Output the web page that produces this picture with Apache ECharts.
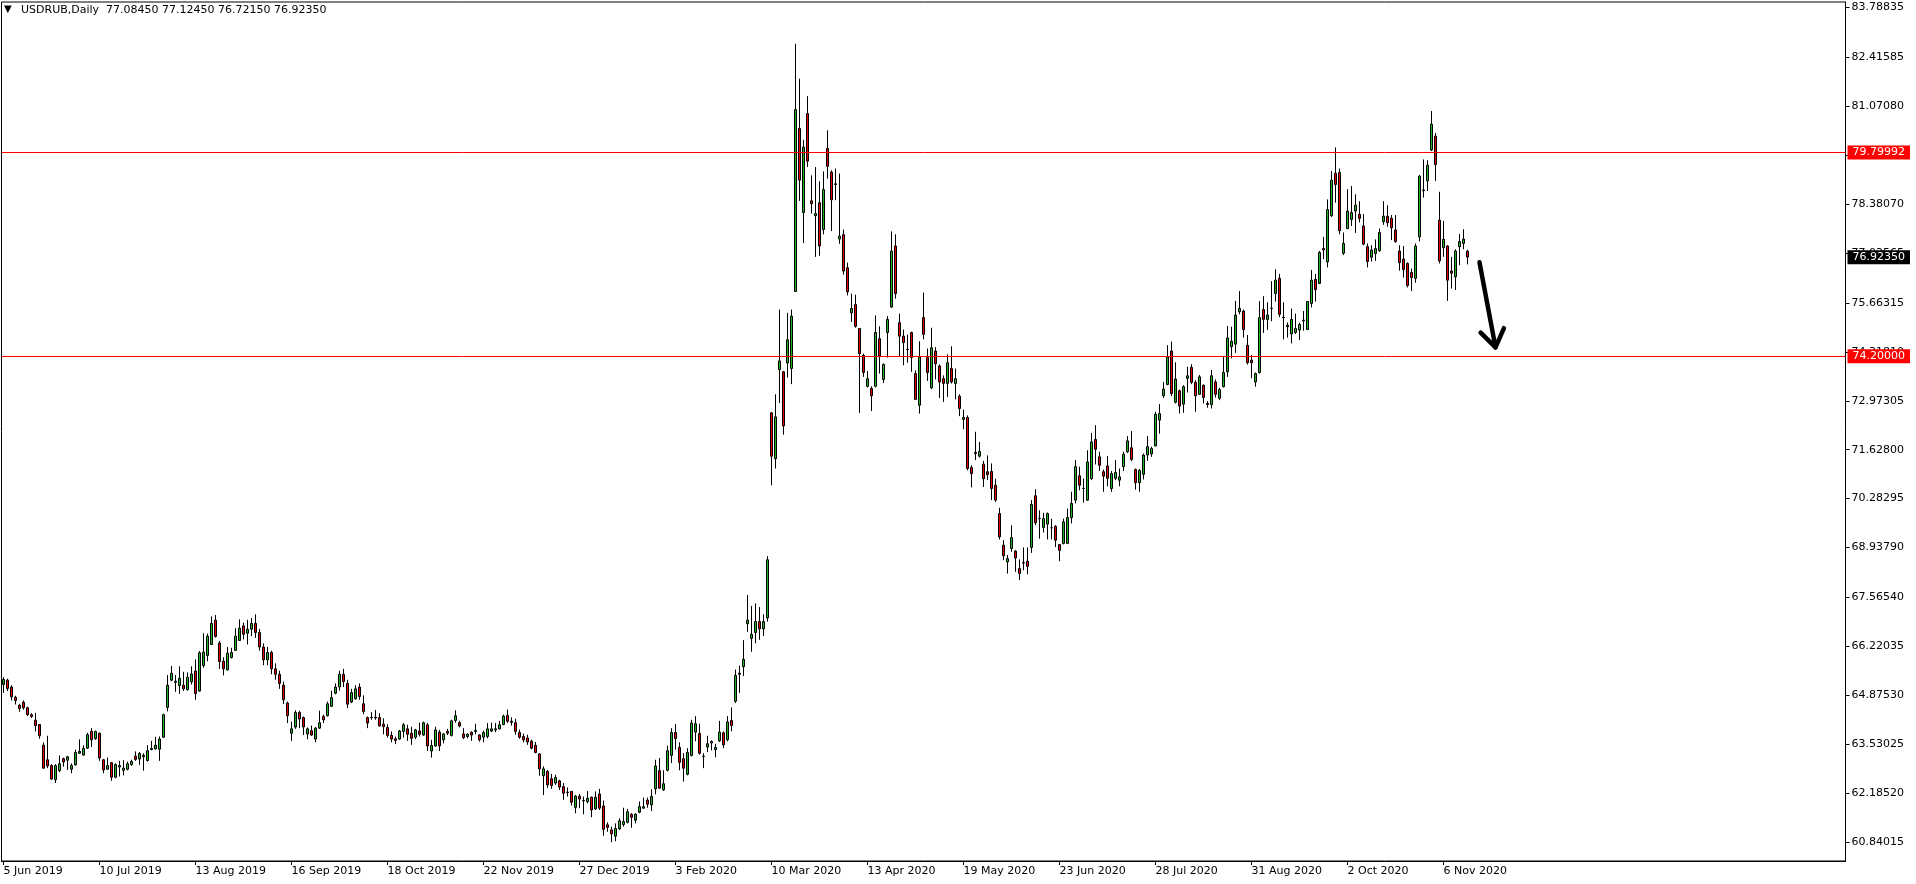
<!DOCTYPE html>
<html>
<head>
<meta charset="utf-8">
<script src="https://cdn.jsdelivr.net/npm/echarts@6/dist/echarts.min.js"></script>
<style>
html,body{margin:0;padding:0;background:#fff;}
#chart{width:1916px;height:884px;}
</style>
</head>
<body>
<div id="chart"></div>
<script>
// ---------- DATA ----------
const symbolName = 'USDRUB,Daily';
// last bar quote: open, high, low, close
const lastQuote = [77.08450, 77.12450, 76.72150, 76.92350];

// daily candles, one row per bar: [open, close, low, high]
const ohlc = [
[65.17,65.31,64.94,65.37],[65.29,65.06,64.99,65.33],[65.10,64.83,64.73,65.15],[64.82,64.73,64.62,64.86],
[64.60,64.51,64.42,64.64],[64.68,64.53,64.48,64.73],[64.53,64.34,64.30,64.56],[64.34,64.29,64.25,64.38],
[64.19,64.04,63.88,64.39],[64.07,63.76,63.68,64.08],[63.50,62.87,62.85,63.58],[63.10,62.93,62.87,63.76],
[62.94,62.57,62.55,62.98],[62.55,62.94,62.46,62.98],[62.80,62.99,62.76,63.22],[63.13,63.04,62.91,63.16],
[63.09,63.18,62.82,63.21],[62.84,62.94,62.73,63.00],[62.96,63.30,62.94,63.38],[63.28,63.33,63.26,63.66],
[63.23,63.41,63.21,63.50],[63.42,63.79,63.40,63.84],[63.88,63.65,63.45,63.97],[63.68,63.88,63.65,63.90],
[63.83,63.15,63.07,63.85],[63.10,62.82,62.73,63.12],[62.84,62.94,62.82,63.16],[63.02,62.62,62.52,63.04],
[62.62,62.97,62.59,63.00],[62.90,62.94,62.64,63.07],[62.81,62.87,62.67,63.09],[62.84,62.99,62.81,63.05],
[62.97,63.05,62.93,63.10],[63.20,63.11,63.07,63.33],[63.12,63.27,62.96,63.31],[63.18,63.22,62.80,63.28],
[63.08,63.35,63.05,63.50],[63.38,63.41,63.36,63.62],[63.40,63.50,63.38,63.73],[63.39,63.67,63.07,63.74],
[63.72,64.34,63.70,64.37],[64.54,65.15,64.43,65.43],[65.29,65.48,65.26,65.68],[65.23,65.26,64.97,65.43],
[65.14,65.34,64.91,65.67],[65.15,65.05,64.99,65.52],[65.03,65.37,65.00,65.50],[65.24,65.46,65.17,65.67],
[65.54,64.92,64.75,65.86],[64.99,66.04,64.97,66.09],[65.69,66.06,65.63,66.58],[65.97,66.50,65.81,66.57],
[66.27,66.85,66.26,67.04],[66.94,66.49,66.46,67.08],[66.31,65.80,65.60,66.37],[65.81,65.60,65.42,65.92],
[65.57,66.03,65.56,66.20],[65.91,66.05,65.89,66.18],[66.11,66.50,66.09,66.72],[66.38,66.72,66.37,66.96],
[66.78,66.55,66.41,66.87],[66.58,66.69,66.27,66.95],[66.69,66.85,66.50,67.00],[66.85,66.60,66.45,67.10],
[66.60,66.20,66.10,66.70],[66.20,65.85,65.70,66.30],[65.85,66.05,65.70,66.20],[66.05,65.60,65.45,66.10],
[65.60,65.45,65.30,65.75],[65.45,65.20,65.05,65.55],[65.15,64.75,64.63,65.25],[64.66,64.31,64.11,64.70],
[63.83,63.95,63.62,64.15],[64.00,64.40,63.95,64.46],[64.40,64.22,63.97,64.45],[64.26,64.00,63.78,64.29],
[63.81,63.95,63.66,63.99],[63.90,63.78,63.76,64.04],[63.67,63.97,63.58,64.00],[63.97,64.12,63.95,64.45],
[64.29,64.20,64.11,64.34],[64.31,64.64,64.29,64.70],[64.57,64.81,64.55,65.00],[64.93,65.10,64.90,65.20],
[65.10,65.45,65.00,65.55],[65.45,65.25,65.10,65.60],[65.20,64.63,64.52,65.30],[64.69,64.95,64.66,65.05],
[64.78,65.05,64.75,65.15],[65.10,64.84,64.75,65.20],[64.64,64.43,64.35,64.87],[64.26,64.11,63.97,64.29],
[64.26,64.27,64.20,64.41],[64.27,64.25,64.20,64.47],[64.26,64.03,64.01,64.38],[64.08,64.01,63.80,64.24],
[63.99,63.77,63.71,64.08],[63.77,63.67,63.58,63.88],[63.68,63.63,63.53,63.74],[63.67,63.89,63.65,63.92],
[63.88,64.06,63.71,64.11],[63.95,63.80,63.62,64.06],[63.83,63.69,63.51,64.01],[63.72,63.92,63.67,63.95],
[63.89,63.80,63.74,64.12],[63.78,64.12,63.76,64.15],[64.06,63.48,63.34,64.11],[63.34,63.49,63.16,63.65],
[63.48,63.92,63.46,64.01],[63.86,63.48,63.34,63.92],[63.65,63.81,63.55,63.83],[63.88,63.83,63.78,63.95],
[63.77,64.17,63.74,64.20],[64.18,64.31,64.12,64.46],[64.12,64.03,63.99,64.17],[63.81,63.71,63.67,63.97],
[63.74,63.80,63.69,63.83],[63.86,63.78,63.62,63.88],[63.88,63.91,63.80,64.09],[63.78,63.65,63.60,63.80],
[63.72,63.85,63.58,63.90],[63.74,63.95,63.69,64.11],[63.89,63.95,63.86,64.12],[63.92,63.95,63.86,64.11],
[63.95,64.06,63.93,64.17],[64.07,64.30,64.05,64.34],[64.32,64.16,64.11,64.48],[64.16,64.13,64.04,64.27],
[64.12,63.88,63.79,64.23],[63.85,63.72,63.68,63.93],[63.74,63.65,63.58,63.82],[63.70,63.59,63.51,63.79],
[63.61,63.42,63.39,63.65],[63.50,63.30,63.28,63.59],[63.26,62.85,62.66,63.28],[62.66,62.85,62.13,62.92],
[62.78,62.41,62.32,62.82],[62.58,62.39,62.30,62.71],[62.46,62.61,62.41,62.69],[62.52,62.35,62.27,62.55],
[62.36,62.18,62.00,62.46],[62.21,62.20,62.09,62.34],[62.23,61.93,61.84,62.24],[61.79,62.10,61.63,62.13],
[62.10,62.02,61.77,62.16],[61.97,61.98,61.60,62.09],[61.95,62.04,61.90,62.24],[62.07,61.72,61.52,62.09],
[61.75,62.07,61.72,62.23],[62.16,61.77,61.72,62.30],[61.83,61.19,61.01,61.98],[61.31,61.24,61.12,61.38],
[61.17,61.06,60.83,61.26],[61.00,61.21,60.86,61.35],[61.20,61.42,61.17,61.49],[61.32,61.40,61.26,61.78],
[61.38,61.67,61.35,61.75],[61.60,61.52,61.23,61.63],[61.44,61.60,61.35,61.63],[61.66,61.81,61.63,61.95],
[61.77,61.81,61.75,62.06],[61.99,61.88,61.78,62.06],[61.86,62.09,61.69,62.29],[62.30,62.93,62.15,63.10],
[62.80,62.32,62.30,63.15],[62.27,62.44,62.25,62.81],[62.81,63.35,62.78,63.49],[63.22,63.85,63.01,63.97],
[63.85,63.68,63.38,64.08],[63.44,63.03,62.81,63.58],[63.13,62.87,62.50,63.28],[62.70,63.30,62.67,63.42],
[63.22,64.11,63.19,64.20],[63.86,64.09,63.61,64.30],[63.82,63.28,63.24,64.09],[63.19,63.20,62.87,63.28],
[63.45,63.54,63.31,63.76],[63.56,63.60,63.36,63.63],[63.38,63.44,63.17,63.54],[63.62,63.86,63.59,64.17],
[63.84,63.51,63.42,63.88],[63.65,64.14,63.61,64.30],[64.18,64.04,63.88,64.54],[64.71,65.42,64.66,65.58],
[65.45,65.48,64.94,65.69],[65.66,65.86,65.40,66.39],[66.84,66.94,66.62,67.63],[66.44,66.55,66.07,67.33],
[66.60,66.90,66.30,67.40],[66.90,66.70,66.40,67.30],[66.70,66.90,66.50,67.10],[67.00,68.60,66.90,68.70],
[72.64,71.45,70.65,72.66],[71.38,72.53,71.11,73.15],[73.83,74.07,72.91,75.48],[73.77,72.28,72.04,73.79],
[74.01,74.65,73.61,75.39],[73.86,75.30,73.43,75.48],[75.98,80.98,75.97,82.79],[80.46,79.04,78.47,81.83],
[78.15,79.95,77.31,80.15],[80.87,79.56,79.40,81.35],[78.47,78.39,78.12,79.17],[78.06,78.12,76.93,79.40],
[78.42,77.23,76.96,79.01],[77.68,78.78,77.55,79.28],[79.91,79.42,79.08,80.41],[79.26,78.50,77.64,79.31],
[78.94,78.92,78.49,79.36],[77.42,77.50,77.29,79.22],[77.54,76.54,76.44,77.68],[76.63,75.97,75.87,76.77],
[75.39,75.51,75.14,75.92],[75.62,75.02,74.98,75.89],[74.96,74.27,72.64,74.96],[74.22,73.75,73.63,74.27],
[73.37,73.58,73.34,73.79],[73.31,73.11,72.69,73.37],[73.37,74.85,73.34,75.32],[74.68,74.20,73.72,75.02],
[73.56,73.97,73.46,74.00],[74.85,75.21,74.16,75.30],[75.55,77.09,75.53,77.63],[77.23,75.92,75.78,77.55],
[75.12,74.75,74.20,75.37],[74.75,74.57,73.95,74.93],[74.38,74.39,74.02,74.79],[74.85,74.16,73.77,74.87],
[73.72,73.01,73.01,73.81],[72.85,74.18,72.62,74.61],[75.26,74.80,74.66,75.95],[74.16,73.75,73.52,74.41],
[73.33,74.43,73.29,74.98],[74.34,73.99,73.56,74.45],[73.93,73.49,73.05,73.97],[73.58,73.45,72.94,73.67],
[73.45,74.02,73.08,74.25],[73.86,73.49,73.45,74.47],[73.45,73.58,73.01,73.86],[73.10,72.76,72.55,73.15],
[72.46,72.51,72.19,72.73],[72.51,71.11,71.06,72.57],[71.14,70.97,70.59,71.20],[71.55,71.52,71.34,72.12],
[71.45,71.58,71.41,71.84],[71.23,70.83,70.60,71.32],[71.02,70.94,70.79,71.47],[71.03,70.56,70.24,71.25],
[70.65,70.24,70.19,70.83],[69.87,69.23,69.16,70.03],[69.00,68.71,68.59,69.14],[68.54,68.63,68.22,68.73],
[68.91,69.21,68.82,69.55],[68.84,68.65,68.27,68.86],[68.36,68.22,68.04,68.61],[68.52,68.51,68.31,68.94],
[68.56,68.42,68.20,68.94],[68.94,70.12,68.79,70.24],[70.36,69.62,69.55,70.54],[69.74,69.73,69.18,69.96],
[69.49,69.73,69.35,69.89],[69.58,69.87,69.16,69.90],[69.48,69.48,69.16,69.73],[69.52,69.14,68.95,69.55],
[69.02,68.86,68.56,69.03],[69.05,69.64,69.02,69.73],[69.05,69.76,69.03,70.01],[69.76,70.15,69.60,70.47],
[70.24,71.16,70.15,71.34],[70.91,70.65,70.51,71.16],[70.56,70.56,70.17,70.83],[70.24,71.29,70.22,71.61],
[70.83,71.84,70.79,72.09],[71.91,71.64,71.22,72.30],[71.43,71.20,71.04,71.57],[71.02,70.90,70.47,71.08],
[71.18,70.84,70.62,71.45],[70.56,70.97,70.47,71.04],[70.84,71.00,70.79,71.34],[70.79,70.88,70.62,71.11],
[71.16,71.50,71.04,71.57],[71.57,71.87,71.54,72.00],[71.68,71.36,71.31,72.14],[71.08,70.72,70.53,71.11],
[70.72,71.06,70.47,71.09],[70.95,71.48,70.81,71.52],[71.48,71.71,71.32,72.00],[71.51,71.66,71.43,71.71],
[71.73,72.60,71.72,72.67],[72.44,72.62,72.07,72.88],[73.11,73.29,73.05,73.49],[73.42,74.18,73.40,74.50],
[74.34,73.17,73.10,74.60],[72.93,73.57,72.90,74.03],[73.25,72.83,72.62,73.28],[72.88,73.36,72.64,73.40],
[73.59,73.66,73.20,73.91],[73.89,73.48,73.43,73.98],[73.48,73.11,72.67,73.54],[73.15,73.63,73.13,73.68],
[73.40,73.06,72.90,73.42],[72.90,72.87,72.78,72.96],[72.87,73.66,72.76,73.82],[73.49,73.15,73.06,73.56],
[73.04,73.28,72.99,73.33],[73.36,73.75,73.34,74.21],[73.77,74.70,73.63,75.03],[74.46,74.61,74.14,75.01],
[74.53,75.33,74.29,75.72],[75.42,75.51,75.35,75.99],[75.44,74.93,74.71,75.48],[74.50,74.02,73.97,74.78],
[74.09,74.02,73.59,74.23],[73.49,73.72,73.36,73.75],[73.75,75.26,73.72,75.71],[75.48,75.21,74.84,75.85],
[75.21,75.33,74.92,75.68],[75.51,75.52,75.16,76.26],[75.92,76.29,75.70,76.59],[76.34,75.35,75.27,76.46],
[75.27,75.26,74.66,75.68],[75.05,75.01,74.71,75.13],[74.81,75.21,74.55,75.51],[74.85,74.96,74.81,75.37],
[74.92,75.07,74.64,75.12],[75.17,75.19,74.90,75.44],[74.93,75.70,74.92,75.71],[75.65,76.29,75.54,76.57],
[76.31,76.03,75.70,76.46],[76.20,77.05,76.18,77.09],[77.16,77.12,76.87,77.48],[76.79,78.23,76.64,78.51],
[78.06,79.04,78.03,79.29],[79.23,78.92,78.42,79.94],[79.25,77.65,77.55,79.36],[77.03,77.30,76.98,77.60],
[77.71,78.19,77.69,78.79],[77.96,78.15,77.78,78.88],[78.19,78.35,77.59,78.65],[78.10,77.99,77.88,78.46],
[77.78,77.28,77.25,78.11],[77.21,76.80,76.64,77.30],[76.92,77.12,76.80,77.25],[77.02,77.16,76.82,77.41],
[77.10,77.60,77.07,77.71],[77.90,78.05,77.81,78.46],[78.05,77.87,77.76,78.35],[77.99,77.73,77.39,78.08],
[77.67,77.35,77.32,78.08],[77.09,76.77,76.55,77.25],[76.87,76.58,76.36,77.23],[76.75,76.14,76.09,76.78],
[76.50,76.36,75.99,76.61],[76.34,77.23,76.22,77.30],[77.48,79.15,77.36,79.18],[78.75,78.77,78.56,79.61],
[79.02,79.45,78.74,79.59],[79.87,80.58,79.84,80.94],[80.25,79.47,79.02,80.34],[77.94,76.82,76.75,78.72],
[77.18,77.41,76.93,77.92],[77.23,76.29,75.72,77.25],[76.54,76.48,76.06,76.93],[76.38,77.09,76.02,77.14],
[77.21,77.35,76.70,77.56],[77.30,77.42,77.14,77.69],[77.0845,76.9235,76.7215,77.1245]
];

// horizontal levels drawn on the chart
const levels = [79.79992, 74.20000];

// x axis: a date label every 24 bars
const xTickBars = [0, 24, 48, 72, 96, 120, 144, 168, 192, 216, 240, 264, 288, 312, 336, 360];
const xTickLabels = ['5 Jun 2019', '10 Jul 2019', '13 Aug 2019', '16 Sep 2019', '18 Oct 2019', '22 Nov 2019',
  '27 Dec 2019', '3 Feb 2020', '10 Mar 2020', '13 Apr 2020', '19 May 2020', '23 Jun 2020', '28 Jul 2020',
  '31 Aug 2020', '2 Oct 2020', '6 Nov 2020'];
const totalSlots = 461; // bar slots across the window, incl. empty right margin

// price scale ticks
const yTickValues = [83.78835, 82.41585, 81.07080, 79.72575, 78.38070, 77.03565, 75.66315, 74.31810, 72.97305,
  71.62800, 70.28295, 68.93790, 67.56540, 66.22035, 64.87530, 63.53025, 62.18520, 60.84015];
const yMin = 60.316, yMax = 83.939;

// hand-drawn arrow annotation: [bar, price]
const arrowFrom = [369.3, 76.78];
const arrowTo = [373.4, 74.44];

// ---------- CHART ----------
const FONT = 'DejaVu Sans';
const categories = Array.from({length: totalSlots}, (_, i) => String(i));
const tickSet = new Set(xTickBars);

const chart = echarts.init(document.getElementById('chart'), null, {renderer: 'canvas'});

const levelLines = levels.map(v => ({
  yAxis: v,
  lineStyle: {color: '#FF0000', width: 1, type: 'solid'},
  label: {show: true, position: 'end', formatter: v.toFixed(5), color: '#fff',
    backgroundColor: '#FF0000', padding: [1, 5, 0, 5], distance: 2, fontFamily: FONT, fontSize: 11, lineHeight: 13}
}));
levelLines.push({
  yAxis: lastQuote[3],
  lineStyle: {color: 'rgba(0,0,0,0)', width: 0},
  label: {show: true, position: 'end', formatter: lastQuote[3].toFixed(5), color: '#fff',
    backgroundColor: '#000', padding: [1, 5, 0, 5], distance: 2, fontFamily: FONT, fontSize: 11, lineHeight: 13}
});

function headerGraphics() {
  return [
    {type: 'text', left: 4, top: 4, style: {text: '\u25BC', fill: '#000', font: '10px ' + FONT}},
    {type: 'text', left: 21, top: 5, style: {
      text: symbolName + '  ' + lastQuote.map(v => v.toFixed(5)).join(' '),
      fill: '#000', font: '11px ' + FONT}}
  ];
}

chart.setOption({
  animation: false,
  backgroundColor: '#fff',
  grid: {left: 1.5, right: 70.5, top: 2, bottom: 23, show: true, borderColor: '#000', borderWidth: 1, backgroundColor: '#fff'},
  xAxis: {
    type: 'category', data: categories, boundaryGap: true,
    axisLine: {show: true, lineStyle: {color: '#000', width: 1}},
    axisTick: {show: true, alignWithLabel: true, length: 4, interval: (i) => tickSet.has(i), lineStyle: {color: '#000'}},
    axisLabel: {show: true, interval: (i) => tickSet.has(i), formatter: (v, i) => xTickLabels[xTickBars.indexOf(i)] || '',
      align: 'left', margin: 5, color: '#000', fontFamily: FONT, fontSize: 11},
    splitLine: {show: false}
  },
  yAxis: {
    type: 'value', position: 'right', min: yMin, max: yMax, scale: true,
    axisLine: {show: true, lineStyle: {color: '#000', width: 1}},
    axisTick: {show: true, length: 4, customValues: yTickValues, lineStyle: {color: '#000'}},
    axisLabel: {show: true, customValues: yTickValues, formatter: v => v.toFixed(5), margin: 6,
      color: '#000', fontFamily: FONT, fontSize: 11},
    splitLine: {show: false}
  },
  series: [{
    type: 'candlestick',
    data: ohlc,
    barWidth: 3,
    itemStyle: {color: '#1FB51F', color0: '#E60000', borderColor: '#000', borderColor0: '#000', borderWidth: 1},
    markLine: {silent: true, symbol: 'none', animation: false, data: levelLines}
  }],
  graphic: headerGraphics()
});

// arrow annotation placed through the chart's own scales
const p0 = chart.convertToPixel({xAxisIndex: 0, yAxisIndex: 0}, arrowFrom);
const p1 = chart.convertToPixel({xAxisIndex: 0, yAxisIndex: 0}, arrowTo);
const ang = Math.atan2(p0[1] - p1[1], p0[0] - p1[0]);
const wing = 21, spread = 0.6;
const w1 = [p1[0] + wing * Math.cos(ang + spread), p1[1] + wing * Math.sin(ang + spread)];
const w2 = [p1[0] + wing * Math.cos(ang - spread), p1[1] + wing * Math.sin(ang - spread)];
chart.setOption({
  graphic: headerGraphics().concat([
    {type: 'polyline', shape: {points: [p0, p1]}, style: {stroke: '#000', lineWidth: 4.5, lineCap: 'round'}, z: 100},
    {type: 'polyline', shape: {points: [w1, p1, w2]}, style: {stroke: '#000', lineWidth: 4.5, lineCap: 'round', lineJoin: 'round', fill: null}, z: 100}
  ])
}, {replaceMerge: ['graphic']});
</script>
</body>
</html>
